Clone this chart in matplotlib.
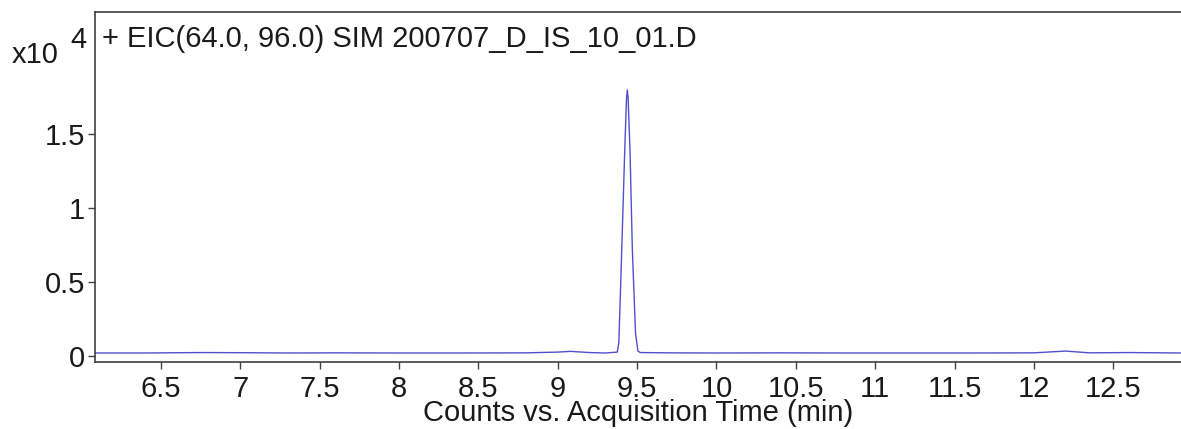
import matplotlib
matplotlib.use("Agg")
import matplotlib.pyplot as plt

# Data
time_min = [6.084, 6.4, 6.75, 7.0, 7.3, 7.6, 8.0, 8.4, 8.8, 9.0, 9.08, 9.2, 9.3,
            9.375, 9.385, 9.403, 9.422, 9.433, 9.438, 9.443, 9.455, 9.470, 9.490,
            9.505, 9.52, 9.7, 10.0, 10.4, 10.8, 11.2, 11.6, 12.0, 12.2, 12.35,
            12.6, 12.927]
counts = [170, 170, 200, 190, 170, 180, 170, 170, 180, 230, 280, 200, 170,
          230, 900, 7140, 13910, 17400, 17980, 17500, 13910, 7140, 1500,
          300, 200, 180, 170, 180, 170, 170, 170, 180, 300, 180, 200, 170]

x_ticks = [6.5, 7, 7.5, 8, 8.5, 9, 9.5, 10, 10.5, 11, 11.5, 12, 12.5]
x_tick_labels = ["6.5", "7", "7.5", "8", "8.5", "9", "9.5", "10", "10.5", "11", "11.5", "12", "12.5"]
y_ticks = [0, 5000, 10000, 15000]
y_tick_labels = ["0", "0.5", "1", "1.5"]

title_text = "+ EIC(64.0, 96.0) SIM 200707_D_IS_10_01.D"
x_label = "Counts vs. Acquisition Time (min)"

plt.rcParams['font.family'] = ['Liberation Sans', 'DejaVu Sans']

W, H = 1181, 429
fig = plt.figure(figsize=(W / 100, H / 100), dpi=100)
ax = fig.add_axes([95 / W, 1 - 362 / H, 1 - 95 / W, 350 / H])

ax.plot(time_min, counts, color='#5050cc', linewidth=1.0)

ax.set_xlim(6.084, 12.927)
ax.set_ylim(-440, 23260)

ax.set_xticks(x_ticks)
ax.set_xticklabels(x_tick_labels)
ax.set_yticks(y_ticks)
ax.set_yticklabels(y_tick_labels)

for s in ['left', 'bottom', 'top']:
    ax.spines[s].set_color('#404040')
    ax.spines[s].set_linewidth(1.2)
ax.spines['right'].set_visible(False)

ax.tick_params(axis='both', direction='out', length=5, width=1, color='#404040',
               labelsize=21, labelcolor='#1a1a1a')
ax.tick_params(axis='x', pad=4.5)
ax.tick_params(axis='y', pad=2)

ax.set_xlabel(x_label, fontsize=21, color='#1a1a1a')
ax.xaxis.set_label_coords(0.5, -0.105)

ax.text(7 / (W - 95), 1 - 35 / 350, title_text, transform=ax.transAxes,
        fontsize=21, color='#1a1a1a', ha='left', va='baseline')

fig.text(12 / W, 1 - 63 / H, "x10", fontsize=21, color='#1a1a1a', ha='left', va='baseline')
fig.text(70 / W, 1 - 48 / H, "4", fontsize=21, color='#1a1a1a', ha='left', va='baseline')

fig.savefig("out.png", dpi=100)
